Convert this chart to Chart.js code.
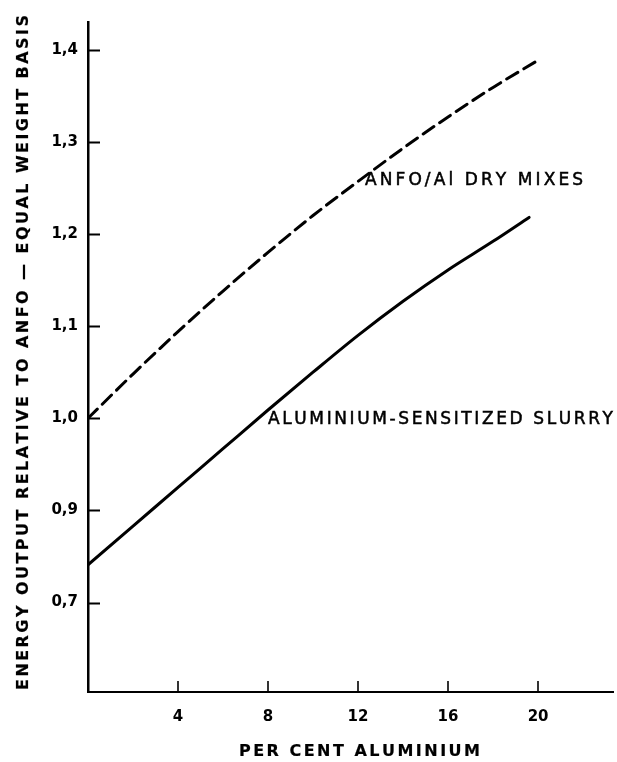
<!DOCTYPE html>
<html>
<head>
<meta charset="utf-8">
<script src="https://cdn.jsdelivr.net/npm/chart.js@4.4.1/dist/chart.umd.min.js"></script>
<style>
    html, body { margin: 0; padding: 0; background: #fff; }
    #wrap { width: 617px; height: 762px; }
</style>
</head>
<body>
<div id="wrap"><canvas id="energyChart" width="617" height="762"></canvas></div>
<script>
// ==================== DATA ====================
const slurryAl = [0, 2, 4, 6, 8, 10, 12, 14, 16, 18, 19.6];
const slurryEnergy = [0.841, 0.883, 0.925, 0.967, 1.009, 1.050, 1.090, 1.127, 1.161, 1.192, 1.218];

const dryMixAl = [0, 2, 4, 6, 8, 10, 12, 14, 16, 18, 19.9];
const dryMixEnergy = [1.0, 1.048, 1.094, 1.138, 1.180, 1.220, 1.257, 1.293, 1.327, 1.359, 1.387];

const xTicks = [4, 8, 12, 16, 20];
const yTicks = [0.8, 0.9, 1.0, 1.1, 1.2, 1.3, 1.4];
// the printed axis reads 0,7 at the lowest tick
const yTickLabels = ['0,7', '0,9', '1,0', '1,1', '1,2', '1,3', '1,4'];

const xTitle = 'PER CENT ALUMINIUM';
const yTitle = 'ENERGY OUTPUT RELATIVE TO ANFO \u2014 EQUAL WEIGHT BASIS';
const dryMixLabel = 'ANFO/Al DRY MIXES';
const slurryLabel = 'ALUMINIUM-SENSITIZED SLURRY';

const INK = '#000';

function toPoints(xs, ys) {
    return xs.map((x, i) => ({ x: x, y: ys[i] }));
}

// draw text spread out so it covers a given width (drawn lettering look)
function spacedText(ctx, text, left, y, width) {
    const widths = [...text].map(ch => ctx.measureText(ch).width);
    const natural = widths.reduce((a, b) => a + b, 0);
    const gap = text.length > 1 ? (width - natural) / (text.length - 1) : 0;
    let x = left;
    [...text].forEach((ch, i) => {
        ctx.fillText(ch, x, y);
        ctx.strokeText(ch, x, y);
        x += widths[i] + gap;
    });
}

// ==================== PLUGIN: inner tick marks + lettering ====================
const drawingPlugin = {
    id: 'drawing',
    afterDraw(chart) {
        const { ctx, chartArea, scales } = chart;
        ctx.save();
        ctx.strokeStyle = INK;
        ctx.lineCap = 'butt';

        // y ticks point into the plot
        ctx.lineWidth = 2;
        yTicks.forEach(v => {
            const py = Math.round(scales.y.getPixelForValue(v)) + 0.5;
            ctx.beginPath();
            ctx.moveTo(chartArea.left, py);
            ctx.lineTo(chartArea.left + 12, py);
            ctx.stroke();
        });

        // x ticks point up
        ctx.lineWidth = 1.6;
        xTicks.forEach(v => {
            const px = Math.round(scales.x.getPixelForValue(v));
            ctx.beginPath();
            ctx.moveTo(px, chartArea.bottom);
            ctx.lineTo(px, chartArea.bottom - 11);
            ctx.stroke();
        });

        ctx.fillStyle = INK;
        ctx.textBaseline = 'middle';
        ctx.textAlign = 'left';

        // curve labels
        ctx.lineWidth = 0.5;
        ctx.font = '17px "DejaVu Sans"';
        spacedText(ctx, dryMixLabel, 365, 181, 218);
        spacedText(ctx, slurryLabel, 268, 420, 345);

        // axis titles
        ctx.lineWidth = 0.2;
        ctx.font = 'bold 16px "DejaVu Sans"';
        spacedText(ctx, xTitle, 239, 752, 241);

        ctx.translate(24, 690);
        ctx.rotate(-Math.PI / 2);
        spacedText(ctx, yTitle, 0, 0, 675);
        ctx.restore();
    }
};

// ==================== CHART ====================
const chartCtx = document.getElementById('energyChart');
new Chart(chartCtx, {
    type: 'line',
    data: {
        datasets: [{
            label: dryMixLabel,
            data: toPoints(dryMixAl, dryMixEnergy),
            borderColor: INK,
            borderWidth: 3,
            borderDash: [13, 7],
            borderCapStyle: 'round',
            pointRadius: 0,
            cubicInterpolationMode: 'monotone',
            fill: false
        }, {
            label: slurryLabel,
            data: toPoints(slurryAl, slurryEnergy),
            borderColor: INK,
            borderWidth: 3,
            borderCapStyle: 'round',
            pointRadius: 0,
            cubicInterpolationMode: 'monotone',
            fill: false
        }]
    },
    options: {
        responsive: false,
        animation: false,
        devicePixelRatio: 1,
        layout: { padding: { top: 22, right: 4, left: 0, bottom: 0 } },
        plugins: {
            legend: { display: false },
            tooltip: { enabled: false }
        },
        scales: {
            x: {
                type: 'linear',
                min: 0,
                max: 23.33,
                afterBuildTicks: s => { s.ticks = xTicks.map(v => ({ value: v })); },
                afterFit: s => { s.height = 70; },
                grid: { display: false, drawTicks: false },
                border: { display: true, color: INK, width: 2 },
                ticks: {
                    color: INK,
                    padding: 16,
                    maxRotation: 0,
                    font: { size: 15, weight: 'bold', family: 'DejaVu Sans' },
                    callback: v => String(v)
                }
            },
            y: {
                type: 'linear',
                min: 0.703,
                max: 1.43,
                afterBuildTicks: s => { s.ticks = yTicks.map(v => ({ value: v })); },
                afterFit: s => { s.width = 88; },
                grid: { display: false, drawTicks: false },
                border: { display: true, color: INK, width: 2.5 },
                ticks: {
                    color: INK,
                    padding: 10,
                    font: { size: 15, weight: 'bold', family: 'DejaVu Sans' },
                    callback: (v, i) => yTickLabels[i]
                }
            }
        }
    },
    plugins: [drawingPlugin]
});
</script>
</body>
</html>
